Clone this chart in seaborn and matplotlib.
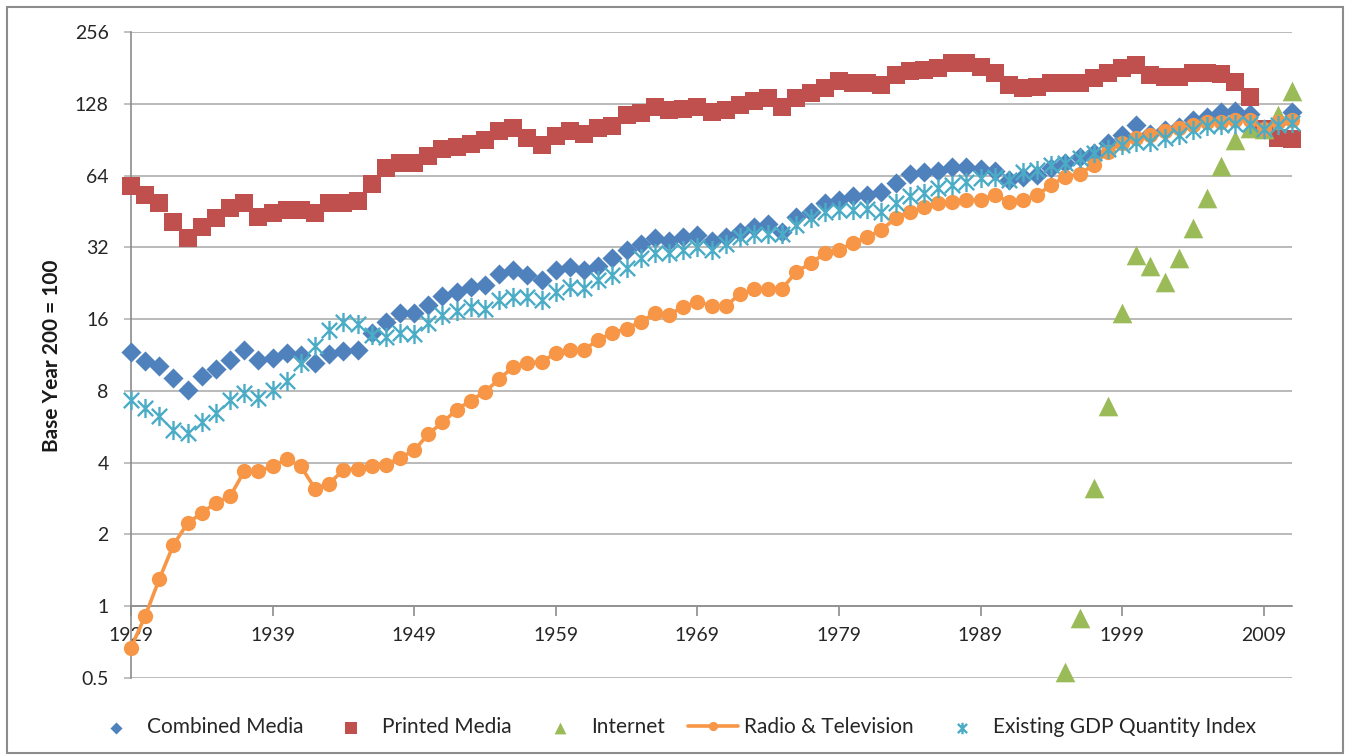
import numpy as np
import pandas as pd
import seaborn as sns
import matplotlib.pyplot as plt
from matplotlib.path import Path
from matplotlib.patches import Rectangle
from matplotlib.ticker import FixedLocator, NullLocator

# ================================
# Date
# ================================
years = list(range(1929, 2012))

combined_media = [
    11.6, 10.7, 10.2, 9.05, 8.1, 9.2, 9.85, 10.8, 11.9, 10.8, 11.0,
    11.5, 11.3, 10.5, 11.4, 11.8, 11.9, 14.0, 15.6, 16.9, 16.9,
    18.4, 20.0, 20.7, 21.9, 22.3, 24.7, 25.6, 24.5, 23.4, 25.6,
    26.4, 25.6, 26.6, 28.8, 31.2, 33.0, 34.9, 34.0, 35.5, 36.0,
    34.0, 35.5, 37.2, 39.0, 40.0, 37.0, 43.0, 45.0, 49.0, 50.3,
    52.3, 53.0, 54.8, 59.8, 64.8, 66.0, 67.0, 69.8, 69.8, 68.5,
    67.0, 61.4, 63.3, 64.3, 68.7, 72.0, 76.8, 79.3, 87.4, 95.0,
    104, 96, 99.4, 102.5, 109.5, 113, 118, 119, 116, 100,
    107.7, 118,
]

printed_media = [
    58, 53, 49, 41, 35, 39, 42.5, 47, 49, 43, 44.6,
    46, 46, 44.5, 49, 49, 50, 59, 68.6, 72.5, 72.5,
    77, 83, 84, 87, 90, 98, 101, 92, 86, 94,
    98, 96, 101, 103, 115, 117.5, 124, 121, 122, 124,
    118, 120, 126, 132, 135, 124, 135, 142.5, 149, 160,
    156, 156, 153, 169, 176, 177, 180, 189, 189, 183,
    172, 153, 149, 151, 156, 157, 157, 164, 172, 180,
    186, 169, 166, 165, 172, 172, 170, 158, 136, 100,
    92, 91,
]

internet_years = [1995, 1996, 1997, 1998, 1999, 2000, 2001, 2002, 2003,
                  2004, 2005, 2006, 2007, 2008, 2009, 2010, 2011]
internet = [0.53, 0.89, 3.13, 6.93, 16.9, 29.7, 26.6, 23.0, 28.8,
            38.5, 51.4, 70.2, 89.8, 101, 100, 115, 145]

radio_tv = [
    0.67, 0.91, 1.30, 1.81, 2.23, 2.46, 2.72, 2.89, 3.68, 3.68, 3.86,
    4.14, 3.86, 3.11, 3.27, 3.73, 3.78, 3.86, 3.92, 4.2, 4.5,
    5.28, 5.9, 6.66, 7.29, 7.94, 8.95, 10.1, 10.5, 10.6, 11.5,
    11.9, 11.9, 13.1, 14.0, 14.6, 15.6, 16.9, 16.7, 18.0, 18.9,
    18.2, 18.1, 20.4, 21.3, 21.5, 21.5, 25.3, 27.4, 30.2, 31.2,
    33.3, 35.5, 37.8, 42.5, 45.0, 47.1, 49.0, 49.8, 50.6, 50.6,
    53.0, 49.8, 50.6, 53.0, 58.5, 63.3, 65.0, 71.0, 80.6, 87.4,
    91.6, 95, 98, 101, 104, 107.7, 107.7, 109.5, 109.5, 100,
    107.7, 109.5,
]

gdp_index = [
    7.34, 6.77, 6.28, 5.49, 5.35, 5.95, 6.49, 7.34, 7.82, 7.5, 8.07,
    8.76, 10.5, 12.3, 14.4, 15.6, 15.3, 13.7, 13.5, 14.0, 13.8,
    15.4, 16.6, 17.3, 18.0, 17.7, 19.3, 19.8, 19.9, 19.3, 20.8,
    21.9, 21.6, 23.4, 24.4, 26.2, 28.8, 30.2, 30.2, 31.2, 32.2,
    31.2, 33.2, 35.5, 36.5, 36.5, 36.5, 39.7, 42.5, 45.0, 45.8,
    45.8, 46.5, 45.0, 49.0, 52.3, 54.0, 56.6, 58.5, 60.4, 62.5,
    63.3, 61.4, 66.5, 67.5, 71.0, 72.5, 75.6, 79.3, 82.5, 86.0,
    88.8, 88.8, 91.6, 95.0, 99.4, 103, 104, 105.8, 105.8, 100,
    104, 106,
]

y_ticks = [0.5, 1, 2, 4, 8, 16, 32, 64, 128, 256]
y_tick_labels = ["0.5", "1", "2", "4", "8", "16", "32", "64", "128", "256"]
x_ticks = [1929, 1939, 1949, 1959, 1969, 1979, 1989, 1999, 2009]

# ================================
# Stil
# ================================
sns.set_theme(style='white')
plt.rcParams['font.family'] = ['Lato', 'DejaVu Sans']

c_blue = '#4F81BD'
c_red = '#C0504D'
c_green = '#9BBB59'
c_orange = '#F79646'
c_cyan = '#4BACC6'
c_grid = '#b4b4b4'
c_axis = '#8c8c8c'

# marker asterisc (vertical + doua diagonale)
asterisk = Path(
    [(0, -1), (0, 1), (-0.8, -0.8), (0.8, 0.8), (-0.8, 0.8), (0.8, -0.8)],
    [Path.MOVETO, Path.LINETO, Path.MOVETO, Path.LINETO, Path.MOVETO, Path.LINETO],
)

fig = plt.figure(figsize=(13.52, 7.55), dpi=100)
ax = fig.add_axes([131 / 1352, 1 - 678 / 755, (1292 - 131) / 1352, (678 - 32) / 755])

sns.scatterplot(x=years, y=combined_media, marker='D', s=105, color=c_blue,
                linewidth=0, ax=ax, label='Combined Media', zorder=3, clip_on=False)
sns.scatterplot(x=years, y=printed_media, marker='s', s=175, color=c_red,
                linewidth=0, ax=ax, label='Printed Media', zorder=4, clip_on=False)
sns.scatterplot(x=internet_years, y=internet, marker='^', s=200, color=c_green,
                linewidth=0, ax=ax, label='Internet', zorder=5, clip_on=False)
sns.lineplot(x=years, y=radio_tv, marker='o', markersize=11, markeredgewidth=0,
             color=c_orange, linewidth=2.6, ax=ax, label='Radio & Television',
             zorder=6, clip_on=False)
sns.scatterplot(x=years, y=gdp_index, marker=asterisk, s=190, color=c_cyan,
                edgecolor=c_cyan, linewidth=1.7, ax=ax,
                label='Existing GDP Quantity Index', zorder=7, clip_on=False)

# axe
ax.set_yscale('log', base=2)
ax.set_ylim(0.5, 256)
ax.set_xlim(1929, 2011)
ax.yaxis.set_major_locator(FixedLocator(y_ticks))
ax.yaxis.set_minor_locator(NullLocator())
ax.set_yticklabels(y_tick_labels)
ax.set_xticks(x_ticks)
ax.set_xticklabels([str(x) for x in x_ticks])

ax.spines['top'].set_visible(False)
ax.spines['right'].set_visible(False)
ax.spines['bottom'].set_position(('data', 1))
for s in ['left', 'bottom']:
    ax.spines[s].set_color(c_axis)
    ax.spines[s].set_linewidth(1.2)

ax.yaxis.grid(True, color=c_grid, linewidth=1.3)
ax.xaxis.grid(False)
ax.tick_params(axis='y', direction='out', length=5, width=1.2, color=c_grid,
               labelsize=14, labelcolor='#262626', pad=11, left=True)
ax.tick_params(axis='x', direction='out', length=7, width=1.2, color=c_axis,
               labelsize=14, labelcolor='#262626', pad=8, bottom=True)
ax.set_xlabel('')
ax.set_ylabel('')

fig.text(52 / 1352, 1 - 356 / 755, 'Base Year 200 = 100', rotation=90,
         ha='center', va='center', fontsize=15, fontweight='bold', color='#1a1a1a')

# legenda
ax.legend(loc='center', bbox_to_anchor=(0.498, 0.037), bbox_transform=fig.transFigure,
          ncol=5, frameon=False, fontsize=15, markerscale=0.6, handlelength=2.4,
          handletextpad=0.3, columnspacing=1.1)

# chenar
fig.patches.append(Rectangle((7 / 1352, 2 / 755), 1336 / 1352, 746 / 755,
                             transform=fig.transFigure, fill=False,
                             edgecolor='#8c8c8c', linewidth=1.5))

plt.savefig('out.png', dpi=100)
